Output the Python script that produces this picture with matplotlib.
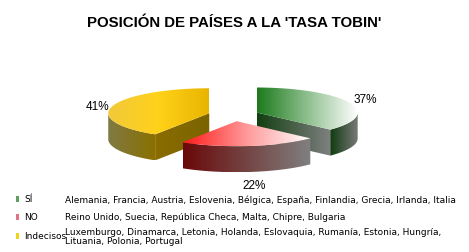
import numpy as np
import matplotlib
matplotlib.use("Agg")
import matplotlib.pyplot as plt
from matplotlib.patches import Polygon, Rectangle
from matplotlib.colors import LinearSegmentedColormap

# datos
categorias = ["SÍ", "NO", "Indecisos"]
valores = [37, 22, 41]
etiquetas = ["37%", "22%", "41%"]
paises = [
    "Alemania, Francia, Austria, Eslovenia, Bélgica, España, Finlandia, Grecia, Irlanda, Italia",
    "Reino Unido, Suecia, República Checa, Malta, Chipre, Bulgaria",
    "Luxemburgo, Dinamarca, Letonia, Holanda, Eslovaquia, Rumanía, Estonia, Hungría,\nLituania, Polonia, Portugal",
]

# colores de cada porcion: tapa, corte, lateral
tapas = [["#1c7a1c", "#8fbf8f", "#ffffff"], ["#ff1a1a", "#ff9a9a", "#ffffff"], ["#f2c93a", "#ffd21a", "#e9b400"]]
cortes = [["#123f12", "#808080"], None, ["#8a6c00", "#7a6400"]]
laterales = [["#0f3a0f", "#7a7a7a"], ["#6a0808", "#808080"], ["#807a44", "#8a7000"]]
marcas = ["#5f9f5f", "#e27384", "#efd21e"]

# geometria (pixeles)
cx, cy = 233.5, 116
R, r, prof = 101, 25, 26
expl = 0.25
pos_pct = [(365, 100), (254, 186), (97, 107)]

fig = plt.figure(figsize=(4.69, 2.53), dpi=100)
ax = fig.add_axes([0, 0, 1, 1])


def relleno(xs, ys, colores, z):
    poly = Polygon(np.column_stack([xs, ys]), closed=True, facecolor="none", edgecolor="none")
    ax.add_patch(poly)
    cmap = LinearSegmentedColormap.from_list("g", colores)
    im = ax.imshow(np.linspace(0, 1, 256).reshape(1, -1), cmap=cmap,
                   extent=[min(xs), max(xs), max(ys), min(ys)],
                   aspect="auto", zorder=z, interpolation="bilinear")
    im.set_clip_path(poly)


def punto(x0, y0, t):
    return x0 + R * np.sin(t), y0 - r * np.cos(t)


total = sum(valores)
inicio = 0.0
orden = [0, 2, 1]
porciones = []
for i, v in enumerate(valores):
    a0 = inicio
    a1 = inicio + v / total * 2 * np.pi
    inicio = a1
    porciones.append((a0, a1))

for k, i in enumerate(orden):
    a0, a1 = porciones[i]
    m = (a0 + a1) / 2
    x0 = cx + expl * R * np.sin(m)
    y0 = cy - expl * r * np.cos(m)
    z = 2 + 3 * k
    # caras de corte visibles
    for t, vis in [(a0, np.sin(a0) < -1e-6), (a1, np.sin(a1) > 1e-6)]:
        if vis and cortes[i] is not None:
            px, py = punto(x0, y0, t)
            relleno([x0, px, px, x0], [y0, py, py + prof, y0 + prof], cortes[i], z)
    # lateral exterior (mitad delantera)
    s0, s1 = max(a0, np.pi / 2), min(a1, 3 * np.pi / 2)
    if s1 > s0:
        t = np.linspace(s0, s1, 60)
        px, py = punto(x0, y0, t)
        relleno(np.r_[px, px[::-1]], np.r_[py, py[::-1] + prof], laterales[i], z + 1)
    # tapa
    t = np.linspace(a0, a1, 100)
    px, py = punto(x0, y0, t)
    relleno(np.r_[x0, px], np.r_[y0, py], tapas[i], z + 2)

for (x, y), et in zip(pos_pct, etiquetas):
    ax.text(x, y, et, ha="center", va="center", fontsize=8.5, family="Liberation Sans")

ax.text(234.5, 23, "POSICIÓN DE PAÍSES A LA 'TASA TOBIN'", ha="center", va="center",
        fontsize=10.8, fontweight="bold", family="Liberation Sans")

# leyenda
filas_y = [200, 218, 237]
for i, cat in enumerate(categorias):
    y = filas_y[i]
    ax.add_patch(Rectangle((16, y - 3), 3, 6, facecolor=marcas[i], edgecolor="none", zorder=20))
    ax.text(24, y, cat, ha="left", va="center", fontsize=6.5, family="DejaVu Sans")
    ax.text(65, y, paises[i], ha="left", va="center", fontsize=6.5,
            family="DejaVu Sans", linespacing=1.05)

ax.set_xlim(0, 469)
ax.set_ylim(253, 0)
ax.axis("off")
fig.savefig("out.png", dpi=100, facecolor="white")
